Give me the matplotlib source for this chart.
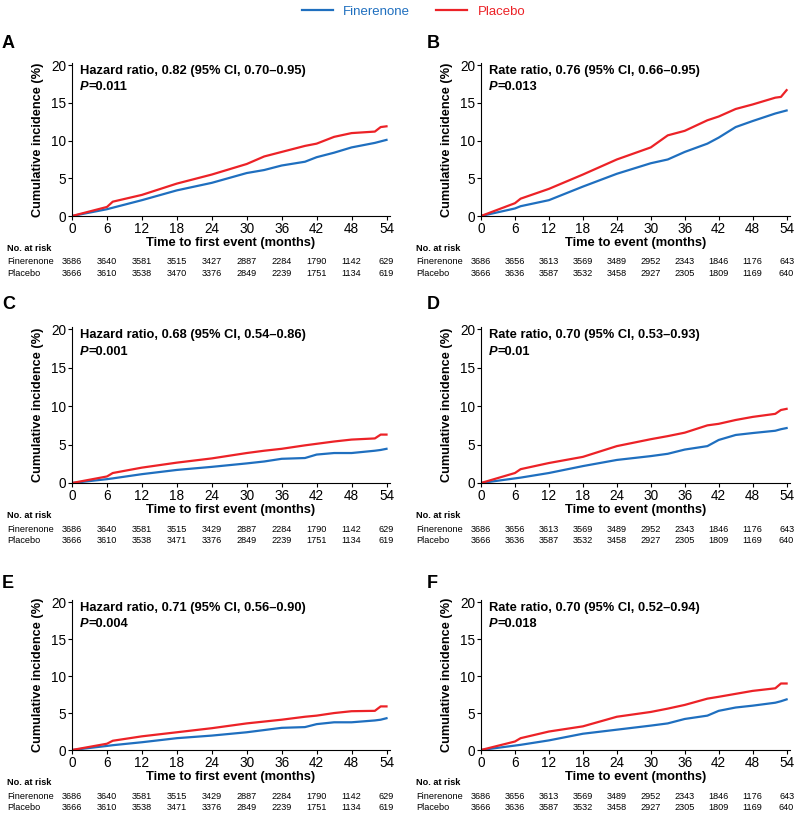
import matplotlib.pyplot as plt
import numpy as np

plt.rcParams['font.family'] = ['Liberation Sans', 'DejaVu Sans']

BLUE = '#1f6fbf'
RED = '#ec2227'

months = [0, 6, 7, 12, 18, 24, 30, 33, 36, 40, 42, 45, 48, 52, 53, 54]

# cumulative incidence (%) per panel
fin_A = [0, 0.9, 1.1, 2.1, 3.4, 4.4, 5.7, 6.1, 6.7, 7.2, 7.8, 8.4, 9.1, 9.7, 9.9, 10.1]
pla_A = [0, 1.2, 1.9, 2.8, 4.3, 5.5, 6.9, 7.9, 8.5, 9.3, 9.6, 10.5, 11.0, 11.2, 11.8, 11.9]
fin_B = [0, 1.0, 1.3, 2.1, 3.9, 5.6, 7.0, 7.5, 8.5, 9.6, 10.4, 11.8, 12.6, 13.6, 13.8, 14.0]
pla_B = [0, 1.7, 2.3, 3.6, 5.5, 7.5, 9.1, 10.7, 11.3, 12.7, 13.2, 14.2, 14.8, 15.7, 15.8, 16.7]
fin_C = [0, 0.5, 0.6, 1.15, 1.7, 2.1, 2.55, 2.8, 3.15, 3.25, 3.7, 3.9, 3.9, 4.2, 4.3, 4.45]
pla_C = [0, 0.85, 1.3, 2.0, 2.65, 3.2, 3.9, 4.2, 4.45, 4.9, 5.1, 5.4, 5.65, 5.8, 6.3, 6.3]
fin_D = [0, 0.6, 0.7, 1.3, 2.2, 3.0, 3.5, 3.8, 4.35, 4.8, 5.6, 6.25, 6.5, 6.8, 7.0, 7.15]
pla_D = [0, 1.3, 1.8, 2.6, 3.4, 4.8, 5.7, 6.1, 6.55, 7.5, 7.7, 8.2, 8.6, 9.0, 9.5, 9.65]
fin_E = [0, 0.55, 0.65, 1.05, 1.6, 1.95, 2.4, 2.7, 3.0, 3.1, 3.5, 3.75, 3.75, 4.0, 4.1, 4.3]
pla_E = [0, 0.85, 1.25, 1.85, 2.4, 2.95, 3.6, 3.85, 4.1, 4.5, 4.65, 5.0, 5.25, 5.3, 5.9, 5.9]
fin_F = [0, 0.6, 0.7, 1.3, 2.2, 2.75, 3.3, 3.6, 4.2, 4.65, 5.3, 5.75, 6.0, 6.4, 6.6, 6.85]
pla_F = [0, 1.15, 1.6, 2.5, 3.2, 4.5, 5.15, 5.6, 6.1, 6.95, 7.2, 7.6, 8.0, 8.35, 9.0, 9.0]

stats = [
    'Hazard ratio, 0.82 (95% CI, 0.70\u20130.95)',
    'Rate ratio, 0.76 (95% CI, 0.66\u20130.95)',
    'Hazard ratio, 0.68 (95% CI, 0.54\u20130.86)',
    'Rate ratio, 0.70 (95% CI, 0.53\u20130.93)',
    'Hazard ratio, 0.71 (95% CI, 0.56\u20130.90)',
    'Rate ratio, 0.70 (95% CI, 0.52\u20130.94)',
]
pvals = ['=0.011', '=0.013', '=0.001', '=0.01', '=0.004', '=0.018']
xlabels = ['Time to first event (months)', 'Time to event (months)'] * 3

risk_times = [0, 6, 12, 18, 24, 30, 36, 42, 48, 54]
risk_fin_A = [3686, 3640, 3581, 3515, 3427, 2887, 2284, 1790, 1142, 629]
risk_pla_A = [3666, 3610, 3538, 3470, 3376, 2849, 2239, 1751, 1134, 619]
risk_fin_B = [3686, 3656, 3613, 3569, 3489, 2952, 2343, 1846, 1176, 643]
risk_pla_B = [3666, 3636, 3587, 3532, 3458, 2927, 2305, 1809, 1169, 640]
risk_fin_C = [3686, 3640, 3581, 3515, 3429, 2887, 2284, 1790, 1142, 629]
risk_pla_C = [3666, 3610, 3538, 3471, 3376, 2849, 2239, 1751, 1134, 619]

panels = [
    ('A', fin_A, pla_A, risk_fin_A, risk_pla_A),
    ('B', fin_B, pla_B, risk_fin_B, risk_pla_B),
    ('C', fin_C, pla_C, risk_fin_C, risk_pla_C),
    ('D', fin_D, pla_D, risk_fin_B, risk_pla_B),
    ('E', fin_E, pla_E, risk_fin_C, risk_pla_C),
    ('F', fin_F, pla_F, risk_fin_B, risk_pla_B),
]

W, H = 800, 813
fig = plt.figure(figsize=(W / 100, H / 100), dpi=100)

# axes boxes in pixels: left, top, right, bottom
lefts = [(72, 390), (481, 790)]
rows = [(63, 216), (327, 483), (600, 750)]
letter_y = [43, 304, 583]
letter_x = [2, 427]

PX = 0.72  # points per pixel

for i, (letter, fin, pla, rfin, rpla) in enumerate(panels):
    r, c = divmod(i, 2)
    l, rt = lefts[c]
    t, b = rows[r]
    ax = fig.add_axes([l / W, 1 - b / H, (rt - l) / W, (b - t) / H])
    ax.plot(months, fin, color=BLUE, lw=1.6)
    ax.plot(months, pla, color=RED, lw=1.6)
    ax.set_xlim(0, 54.6)
    ax.set_ylim(0, 20.3)
    ax.set_xticks(risk_times)
    ax.set_yticks([0, 5, 10, 15, 20])
    ax.tick_params(labelsize=9.8, length=3, pad=1)
    for s in ['top', 'right']:
        ax.spines[s].set_visible(False)
    ax.set_xlabel(xlabels[i], fontsize=9.3, fontweight='bold', labelpad=1)
    ax.set_ylabel('Cumulative incidence (%)', fontsize=9.2, fontweight='bold', labelpad=5)

    ax.text(0.025, 0.985, stats[i], transform=ax.transAxes, fontsize=9.3,
            fontweight='bold', va='top')
    p = ax.text(0.025, 0.88, 'P', transform=ax.transAxes, fontsize=9.3,
                fontweight='bold', fontstyle='italic', va='top')
    ax.annotate(pvals[i], xy=(1, 0), xycoords=p, fontsize=9.3,
                fontweight='bold', va='bottom')

    fig.text(letter_x[c] / W, 1 - letter_y[r] / H, letter, fontsize=13,
             fontweight='bold', va='center')

    # number at risk table
    ax.annotate('No. at risk', xy=(0, 0), xycoords='axes fraction',
                xytext=(-65 * PX, -32.5 * PX), textcoords='offset points',
                fontsize=6.6, fontweight='bold', va='center', annotation_clip=False)
    for lab, vals, dy in [('Finerenone', rfin, -46), ('Placebo', rpla, -57.5)]:
        ax.annotate(lab, xy=(0, 0), xycoords='axes fraction',
                    xytext=(-65 * PX, dy * PX), textcoords='offset points',
                    fontsize=6.6, va='center', annotation_clip=False)
        for tm, v in zip(risk_times, vals):
            ax.annotate(str(v), xy=(tm, 0), xycoords=('data', 'axes fraction'),
                        xytext=(0, dy * PX), textcoords='offset points',
                        fontsize=6.6, ha='center', va='center', annotation_clip=False)

handles = [plt.Line2D([], [], color=BLUE, lw=1.6), plt.Line2D([], [], color=RED, lw=1.6)]
fig.legend(handles, ['Finerenone', 'Placebo'], loc='upper center',
           bbox_to_anchor=(0.517, 1.008), ncol=2, frameon=False, fontsize=9.5,
           labelcolor='linecolor', handlelength=2.3, columnspacing=2.0)

fig.savefig('out.png', dpi=100)
